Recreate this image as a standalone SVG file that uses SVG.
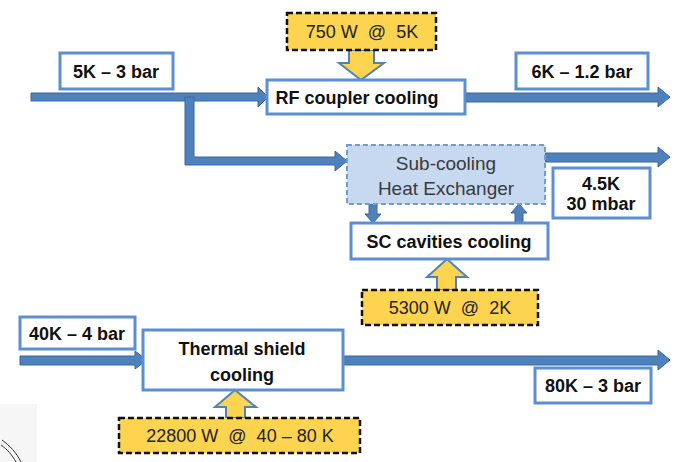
<svg xmlns="http://www.w3.org/2000/svg" width="675" height="462" viewBox="0 0 675 462">
<style>
.bg{fill:#ffffff}
.lbl{fill:#ffffff;stroke:#5b8fd2;stroke-width:3}
.node{fill:#ffffff;stroke:#5b8fd2;stroke-width:3}
.hx{fill:#c6d9f1;stroke:#6d9ed8;stroke-width:2;stroke-dasharray:5 3}
.load{fill:#fdd44f;stroke:#111111;stroke-width:2.5;stroke-dasharray:6 3}
.flow{fill:#4f81bd;stroke:#3a669c;stroke-width:1}
.heat{fill:#fdd44f;stroke:#4f81bd;stroke-width:2}
.b{font-family:"Liberation Sans",Arial,sans-serif;font-weight:bold;font-size:18px;fill:#111111;text-anchor:middle}
.r{font-family:"Liberation Sans",Arial,sans-serif;font-size:18px;fill:#222222;text-anchor:middle}
.hxt{font-family:"Liberation Sans",Arial,sans-serif;font-size:19px;fill:#3a3a3a;text-anchor:middle}
</style>
<rect class="bg" x="0" y="0" width="675" height="462"/>
<g id="artifact">
<rect x="0" y="404" width="37" height="58" fill="#f6f6f6"/>
<path d="M2 440 C10 446 16 452 21 462" fill="none" stroke="#333" stroke-width="1"/>
<path d="M1 445 C8 450 12 455 16 462" fill="none" stroke="#333" stroke-width="1"/>
</g>
<g id="connectors">
<polygon class="flow" points="31,93 258,93 258,87 268,97 258,107 258,101 31,101"/>
<polygon class="flow" points="185,97 194,97 194,157 335,157 335,151 347,161 335,171 335,165 185,165"/>
<polygon class="flow" points="466,93 658,93 658,87 670,97 658,107 658,102 466,102"/>
<polygon class="flow" points="545,153 658,153 658,147 670,157 658,167 658,162 545,162"/>
<polygon class="flow" points="369,204 377,204 377,214 381,214 373,223 365,214 369,214"/>
<polygon class="flow" points="515,223 523,223 523,213 527,213 519,204 511,213 515,213"/>
<polygon class="flow" points="20,356 135,356 135,351 147,360 135,369 135,365 20,365"/>
<polygon class="flow" points="343,356 658,356 658,350 670,360 658,370 658,365 343,365"/>
<polygon class="heat" points="349,50 374,50 374,63 384,63 361,80 339,63 349,63"/>
<polygon class="heat" points="437,290 456,290 456,277 467,277 447,259 427,277 437,277"/>
<polygon class="heat" points="226,418 245,418 245,407 256,407 235,390 215,407 226,407"/>
</g>
<g id="in5k">
<rect class="lbl" x="60" y="53" width="113" height="36"/>
<text class="b" x="116" y="78">5K – 3 bar</text>
</g>
<g id="load750">
<rect class="load" x="287" y="13" width="149" height="37"/>
<text class="r" x="362" y="38" xml:space="preserve">750 W  @  5K</text>
</g>
<g id="rf">
<rect class="node" x="267" y="80" width="198" height="34"/>
<text class="b" x="357" y="104">RF coupler cooling</text>
</g>
<g id="out6k">
<rect class="lbl" x="516" y="53" width="132" height="36"/>
<text class="b" x="582" y="78">6K – 1.2 bar</text>
</g>
<g id="hx">
<rect class="hx" x="347" y="145" width="198" height="59"/>
<text class="hxt" x="446" y="170">Sub-cooling</text>
<text class="hxt" x="446" y="195">Heat Exchanger</text>
</g>
<g id="out45k">
<rect class="lbl" x="553" y="168" width="97" height="50"/>
<text class="b" x="601" y="190">4.5K</text>
<text class="b" x="601" y="210">30 mbar</text>
</g>
<g id="sc">
<rect class="node" x="351" y="223" width="197" height="36"/>
<text class="b" x="449" y="248">SC cavities cooling</text>
</g>
<g id="load5300">
<rect class="load" x="362" y="290" width="176" height="35"/>
<text class="r" x="450" y="314" xml:space="preserve">5300 W  @  2K</text>
</g>
<g id="in40k">
<rect class="lbl" x="20" y="317" width="115" height="32"/>
<text class="b" x="77" y="340">40K – 4 bar</text>
</g>
<g id="thermal">
<rect class="node" x="143" y="330" width="200" height="60"/>
<text class="b" x="242" y="355">Thermal shield</text>
<text class="b" x="242" y="381">cooling</text>
</g>
<g id="out80k">
<rect class="lbl" x="535" y="368" width="116" height="35"/>
<text class="b" x="593" y="392">80K – 3 bar</text>
</g>
<g id="load22800">
<rect class="load" x="119" y="418" width="241" height="35"/>
<text class="r" x="240" y="442" xml:space="preserve">22800 W  @  40 – 80 K</text>
</g>
</svg>
